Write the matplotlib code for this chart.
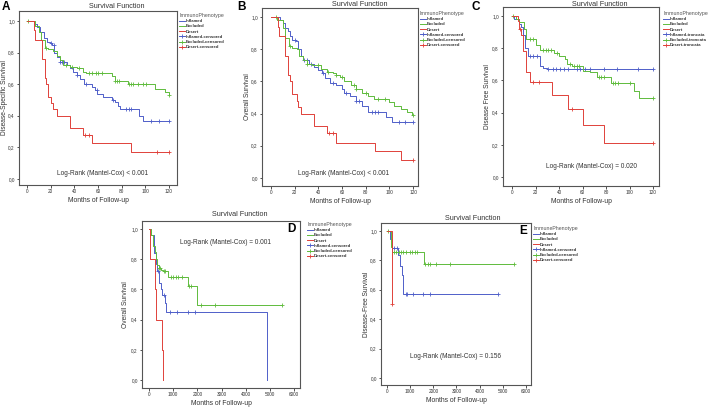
import numpy as np
import matplotlib
matplotlib.use("Agg")
import matplotlib.pyplot as plt
from matplotlib.lines import Line2D

plt.rcParams['font.family'] = ['Liberation Sans', 'DejaVu Sans']

# ---------------- data ----------------
# Panel A: Disease-Specific Survival (months)
A_inf_t = [0, 6, 8, 11, 14, 17, 19, 21, 23, 25, 27.5, 34, 36.5, 39, 42, 45, 48, 55, 57.5, 59.5, 64.5, 71.5, 74, 77, 78.5, 95, 98, 120]
A_inf_s = [1.0, 0.98, 0.96, 0.93, 0.89, 0.87, 0.86, 0.85, 0.80, 0.77, 0.74, 0.72, 0.70, 0.68, 0.66, 0.63, 0.60, 0.58, 0.56, 0.54, 0.52, 0.50, 0.49, 0.46, 0.44, 0.40, 0.37, 0.37]
A_inf_c = [20, 22.4, 28, 29.5, 31, 42.6, 50, 59, 73, 84, 86, 88, 105, 112, 120]
A_exc_t = [0, 7, 10, 12, 15, 18, 22, 25, 28, 30, 36, 42, 47, 50, 72, 74, 85, 108, 117, 120]
A_exc_s = [1.0, 0.97, 0.93, 0.88, 0.83, 0.82, 0.81, 0.78, 0.75, 0.72, 0.71, 0.70, 0.68, 0.67, 0.65, 0.62, 0.60, 0.57, 0.55, 0.53]
A_exc_c = [1, 16, 33, 38, 44, 52, 55, 58, 60, 63, 74.5, 76, 78, 86, 88, 90, 94, 98, 101, 120]
A_des_t = [0, 6, 7, 13, 15, 16, 18, 20, 22, 25, 36, 47, 55, 88, 120]
A_des_s = [1.0, 0.94, 0.88, 0.76, 0.64, 0.60, 0.52, 0.48, 0.44, 0.40, 0.32, 0.28, 0.225, 0.17, 0.17]
A_des_c = [49, 52, 110, 120]

# Panel B: Overall Survival (months)
B_inf_t = [0, 8, 10, 12, 14, 16, 18, 21, 23, 25, 27, 32, 36, 40, 43, 46, 50, 55, 60, 62, 67, 72, 77, 82, 97, 102, 120]
B_inf_s = [1.0, 0.98, 0.96, 0.93, 0.91, 0.88, 0.86, 0.85, 0.80, 0.76, 0.73, 0.71, 0.69, 0.67, 0.65, 0.62, 0.59, 0.58, 0.55, 0.53, 0.51, 0.48, 0.45, 0.41, 0.38, 0.35, 0.35]
B_inf_c = [20, 28, 30, 34, 44, 52, 63, 72, 74, 85, 88, 90, 108, 113, 120]
B_exc_t = [0, 5, 10, 12, 15, 18, 22, 24, 27, 30, 35, 42, 47, 52, 55, 58, 62, 68, 72, 77, 82, 87, 100, 104, 110, 115, 119, 120]
B_exc_s = [1.0, 0.98, 0.93, 0.87, 0.82, 0.81, 0.80, 0.76, 0.73, 0.71, 0.70, 0.68, 0.66, 0.65, 0.64, 0.63, 0.60, 0.58, 0.55, 0.53, 0.51, 0.49, 0.47, 0.45, 0.43, 0.41, 0.39, 0.39]
B_exc_c = [4, 16, 30, 40, 48, 55, 60, 70, 72, 80, 90, 96, 120]
B_des_t = [0, 6, 7, 12, 14, 16, 18, 22, 23, 25, 36, 47, 55, 88, 110, 120]
B_des_s = [1.0, 0.94, 0.88, 0.76, 0.64, 0.60, 0.52, 0.48, 0.44, 0.40, 0.32, 0.28, 0.22, 0.17, 0.11, 0.11]
B_des_c = [49, 52, 120]

# Panel C: Disease Free Survival (months)
C_inf_t = [0, 2, 6, 8, 9, 11, 14, 24, 26, 30, 120]
C_inf_s = [1.0, 0.98, 0.95, 0.93, 0.88, 0.80, 0.75, 0.69, 0.68, 0.67, 0.67]
C_inf_c = [15.5, 18, 21, 31, 35, 37.6, 41, 44, 48, 55, 58, 62, 66, 78, 89, 107, 120]
C_exc_t = [0, 3, 6, 10, 12, 20, 24, 36, 40, 45, 47, 51, 60, 66, 72, 84, 104, 108, 120]
C_exc_s = [1.0, 0.98, 0.96, 0.92, 0.86, 0.82, 0.79, 0.77, 0.75, 0.73, 0.70, 0.69, 0.66, 0.65, 0.62, 0.585, 0.535, 0.49, 0.49]
C_exc_c = [1, 15, 18, 26, 29, 31, 33, 38, 49, 53, 55, 57, 74, 76, 78, 86, 88, 90, 100, 120]
C_des_t = [0, 5, 6, 8, 9, 12, 15, 34, 48, 60, 78, 120]
C_des_s = [1.0, 0.97, 0.92, 0.88, 0.78, 0.65, 0.59, 0.51, 0.425, 0.32, 0.21, 0.21]
C_des_c = [6.5, 18, 23, 51, 120]

# Panel D: Overall Survival (follow-up 0-6000)
D_inf_t = [0, 100, 220, 300, 350, 420, 500, 540, 680, 700, 4880]
D_inf_s = [1.0, 0.96, 0.84, 0.77, 0.72, 0.64, 0.60, 0.56, 0.51, 0.45, 0.0]
D_inf_c = [386, 600, 870, 1160, 1610, 1900]
D_exc_t = [0, 100, 180, 250, 300, 350, 400, 500, 580, 800, 1600, 2000, 5500]
D_exc_s = [1.0, 0.96, 0.89, 0.85, 0.80, 0.76, 0.74, 0.73, 0.72, 0.684, 0.62, 0.50, 0.50]
D_exc_c = [420, 470, 600, 650, 900, 1000, 1100, 1200, 1350, 1650, 1750, 2150, 2750, 5500]
D_des_t = [0, 50, 250, 280, 520, 590]
D_des_s = [1.0, 0.8, 0.6, 0.4, 0.2, 0.0]
D_des_c = []

# Panel E: Disease-Free Survival (follow-up 0-6000)
E_inf_t = [0, 130, 200, 480, 560, 640, 710, 4800]
E_inf_s = [1.0, 0.946, 0.887, 0.838, 0.76, 0.70, 0.571, 0.571]
E_inf_c = [300, 420, 800, 870, 1130, 1570, 1870, 4800]
E_exc_t = [0, 160, 230, 1600, 5500]
E_exc_s = [1.0, 0.89, 0.86, 0.776, 0.776]
E_exc_c = [60, 300, 400, 500, 600, 700, 800, 1000, 1100, 1200, 1300, 1650, 1750, 1850, 2100, 2700, 5500]
E_des_t = [0, 230]
E_des_s = [1.0, 0.5]
E_des_c = [230]

groups = ["Inflamed", "Excluded", "Desert"]
BLUE, GREEN, RED = "#4f5fc9", "#5fbb3c", "#e0413a"
colors = [BLUE, GREEN, RED]

# ---------------- figure ----------------
W, H = 709, 408
fig = plt.figure(figsize=(W / 100, H / 100), dpi=100)


def add_ax(l, t, r, b):
    return fig.add_axes([l / W, 1 - b / H, (r - l) / W, (b - t) / H])


def km(ax, t, s, c, cens):
    t = np.asarray(t, float)
    s = np.asarray(s, float)
    ax.step(t, s, where='post', color=c, lw=0.7)
    if len(cens):
        cens = np.asarray(cens, float)
        idx = np.searchsorted(t, cens, side='right') - 1
        ax.plot(cens, s[idx], '+', color=c, ms=3.2, mew=0.6, ls='none')


def style(ax, xlim, ylim, xticks, ylabel, ylab_x):
    ax.set_xlim(*xlim)
    ax.set_ylim(*ylim)
    ax.set_xticks(xticks)
    ax.set_xticklabels([str(v) for v in xticks])
    yt = [0.0, 0.2, 0.4, 0.6, 0.8, 1.0]
    ax.set_yticks(yt)
    ax.set_yticklabels([f"{v:.1f}".replace('.', ',') for v in yt])
    for sp in ax.spines.values():
        sp.set_color('#555555')
        sp.set_linewidth(0.8)
    ax.tick_params(axis='both', length=1.8, width=0.6, pad=1.2,
                   labelsize=3.4, colors='#333333')
    ax.set_ylabel(ylabel, fontsize=4.8, color='#333333')
    ax.yaxis.set_label_coords(ylab_x, 0.5)
    ax.set_xlabel("Months of Follow-up", fontsize=4.9, color='#333333', labelpad=2)


def legend(ax, x, y, title, suffix):
    handles = []
    labels = []
    for g, c in zip(groups, colors):
        handles.append(Line2D([], [], color=c, lw=0.7))
        labels.append(g)
    for g, c in zip(groups, colors):
        handles.append(Line2D([], [], color=c, lw=0.7, marker='+', ms=3, mew=0.6))
        labels.append(g + suffix)
    leg = ax.legend(handles, labels, title=title, loc='upper left',
                    bbox_to_anchor=(x / W, 1 - y / H), bbox_transform=fig.transFigure,
                    frameon=False, fontsize=3.1, title_fontsize=3.8,
                    handlelength=1.3, handletextpad=0.3, labelspacing=0.28,
                    borderpad=0, borderaxespad=0, alignment='left')
    leg.get_title().set_color('#555555')
    for txt in leg.get_texts():
        txt.set_fontweight('bold')
        txt.set_color('#333333')


def panel(box, data, xlim, ylim, xticks, ylabel, ylab_x, leg_xy, title_xy,
          logrank, lr_xy, suffix, legtitle):
    ax = add_ax(*box)
    for (t, s, cns), c in zip(data, colors):
        km(ax, t, s, c, cns)
    style(ax, xlim, ylim, xticks, ylabel, ylab_x)
    legend(ax, leg_xy[0], leg_xy[1], legtitle, suffix)
    fig.text(title_xy[0] / W, 1 - title_xy[1] / H, "Survival Function",
             ha='center', va='center', fontsize=5.2, color='#333333')
    fig.text(lr_xy[0] / W, 1 - lr_xy[1] / H, logrank,
             ha='center', va='center', fontsize=4.7, color='#333333')
    return ax


mticks = [0, 20, 40, 60, 80, 100, 120]
dticks = [0, 1000, 2000, 3000, 4000, 5000, 6000]

panel((19, 11, 177, 185),
      [(A_inf_t, A_inf_s, A_inf_c), (A_exc_t, A_exc_s, A_exc_c), (A_des_t, A_des_s, A_des_c)],
      (-6.8, 126.8), (-0.038, 1.063), mticks, "Disease-Specific Survival", -0.068,
      (179, 13), (117, 6), "Log-Rank (Mantel-Cox) < 0.001", (103, 173), "-censored",
      "ImmunoPhenotype")

panel((262, 8, 418, 186),
      [(B_inf_t, B_inf_s, B_inf_c), (B_exc_t, B_exc_s, B_exc_c), (B_des_t, B_des_s, B_des_c)],
      (-7.6, 124.2), (-0.05, 1.056), mticks, "Overall Survival", -0.07,
      (420, 11), (360, 4), "Log-Rank (Mantel-Cox) < 0.001", (344, 173), "-censored",
      "ImmunoPhenotype")

panel((503, 7, 659, 186),
      [(C_inf_t, C_inf_s, C_inf_c), (C_exc_t, C_exc_s, C_exc_c), (C_des_t, C_des_s, C_des_c)],
      (-7.7, 125.1), (-0.056, 1.056), mticks, "Disease Free Survival", -0.077,
      (663, 11), (600, 4), "Log-Rank (Mantel-Cox) = 0.020", (591, 167), "-troncata",
      "ImmunoPhenotype")

panel((142, 221, 300, 388),
      [(D_inf_t, D_inf_s, D_inf_c), (D_exc_t, D_exc_s, D_exc_c), (D_des_t, D_des_s, D_des_c)],
      (-290, 6248), (-0.053, 1.053), dticks, "Overall Survival", -0.082,
      (307, 222), (240, 215), "Log-Rank (Mantel-Cox) = 0.001", (225, 243), "-censored",
      "ImmunePhenotype")

panel((381, 223, 531, 385),
      [(E_inf_t, E_inf_s, E_inf_c), (E_exc_t, E_exc_s, E_exc_c), (E_des_t, E_des_s, E_des_c)],
      (-260, 6217), (-0.048, 1.054), dticks, "Disease-Free Survival", -0.073,
      (533, 226), (473, 219), "Log-Rank (Mantel-Cox) = 0.156", (456, 356), "-censored",
      "ImmunePhenotype")

# panel letters
for lab, x, y in [("A", 6, 7), ("B", 241, 7), ("C", 476, 7), ("D", 291, 229), ("E", 523, 231)]:
    fig.text(x / W, 1 - y / H, lab, ha='center', va='center', fontsize=8.5,
             fontweight='bold', color='black')

fig.savefig("out.png", dpi=100)
